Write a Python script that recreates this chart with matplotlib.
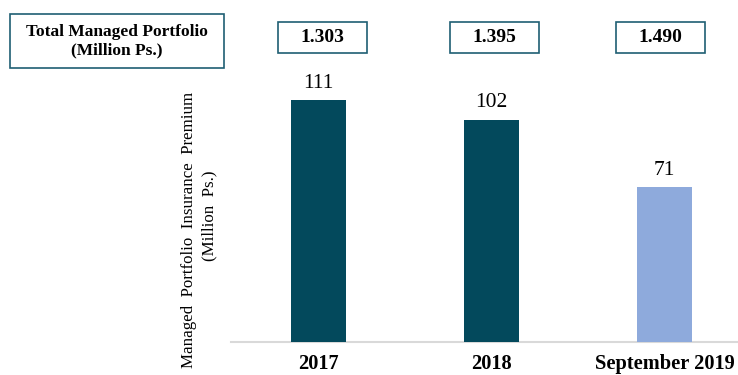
import matplotlib
matplotlib.use('Agg')
import matplotlib.pyplot as plt
import matplotlib.patches as mpatches

# Managed portfolio insurance premium per period (million Ps.)
categories = ['2017', '2018', 'September 2019']
premiums = [111, 102, 71]
bar_colors = ['#03495c', '#03495c', '#8eaadc']

# Total managed portfolio shown above each bar
portfolio_totals = ['1.303', '1.395', '1.490']
header_label = 'Total Managed Portfolio\n(Million Ps.)'

W, H = 738, 375
plt.rcParams['font.family'] = ['Liberation Serif', 'DejaVu Serif']

fig = plt.figure(figsize=(W / 100, H / 100), dpi=100)

# Helpers for placing boxes in pixel units
def fx(x):
    return x / W

def fy(y):
    return 1 - y / H

ax = fig.add_axes([fx(231), fy(342), fx(738) - fx(231), fy(69.5) - fy(342)])
x = range(len(categories))
ax.bar(x, premiums, width=0.318, color=bar_colors, zorder=3)
for xi, v in zip(x, premiums):
    ax.text(xi, v + 3.3, str(v), ha='center', va='bottom', fontsize=15.5)

ax.set_xlim(-0.506, 2.425)
ax.set_ylim(0, 125)
ax.set_xticks(list(x))
ax.set_xticklabels(categories, fontsize=14.7, fontweight='bold')
ax.tick_params(axis='x', length=0, pad=8.5)
ax.set_yticks([])
for side in ['left', 'right', 'top']:
    ax.spines[side].set_visible(False)
ax.spines['bottom'].set_color('#d9d9d9')
ax.spines['bottom'].set_linewidth(1.5)

# Rotated axis title
fig.text(fx(189), fy(230), 'Managed  Portfolio  Insurance  Premium',
         rotation=90, ha='center', va='center', fontsize=12.2)
fig.text(fx(209), fy(216), '(Million  Ps.)',
         rotation=90, ha='center', va='center', fontsize=12.2)

# Header boxes
edge = '#1f5f73'
fig.patches.append(mpatches.Rectangle((fx(10), fy(68)), fx(224) - fx(10), fy(14) - fy(68),
                                      transform=fig.transFigure, fill=False,
                                      edgecolor=edge, linewidth=1.2))
fig.text(fx(117), fy(41), header_label, ha='center', va='center',
         fontsize=12.5, fontweight='bold', linespacing=1.15)

box_left = [278, 450, 616]
for left, total in zip(box_left, portfolio_totals):
    fig.patches.append(mpatches.Rectangle((fx(left), fy(53)), fx(89), fy(22) - fy(53),
                                          transform=fig.transFigure, fill=False,
                                          edgecolor=edge, linewidth=1.2))
    fig.text(fx(left + 44.5), fy(37.5), total, ha='center', va='center',
             fontsize=14, fontweight='bold')

fig.savefig('out.png', dpi=100)
